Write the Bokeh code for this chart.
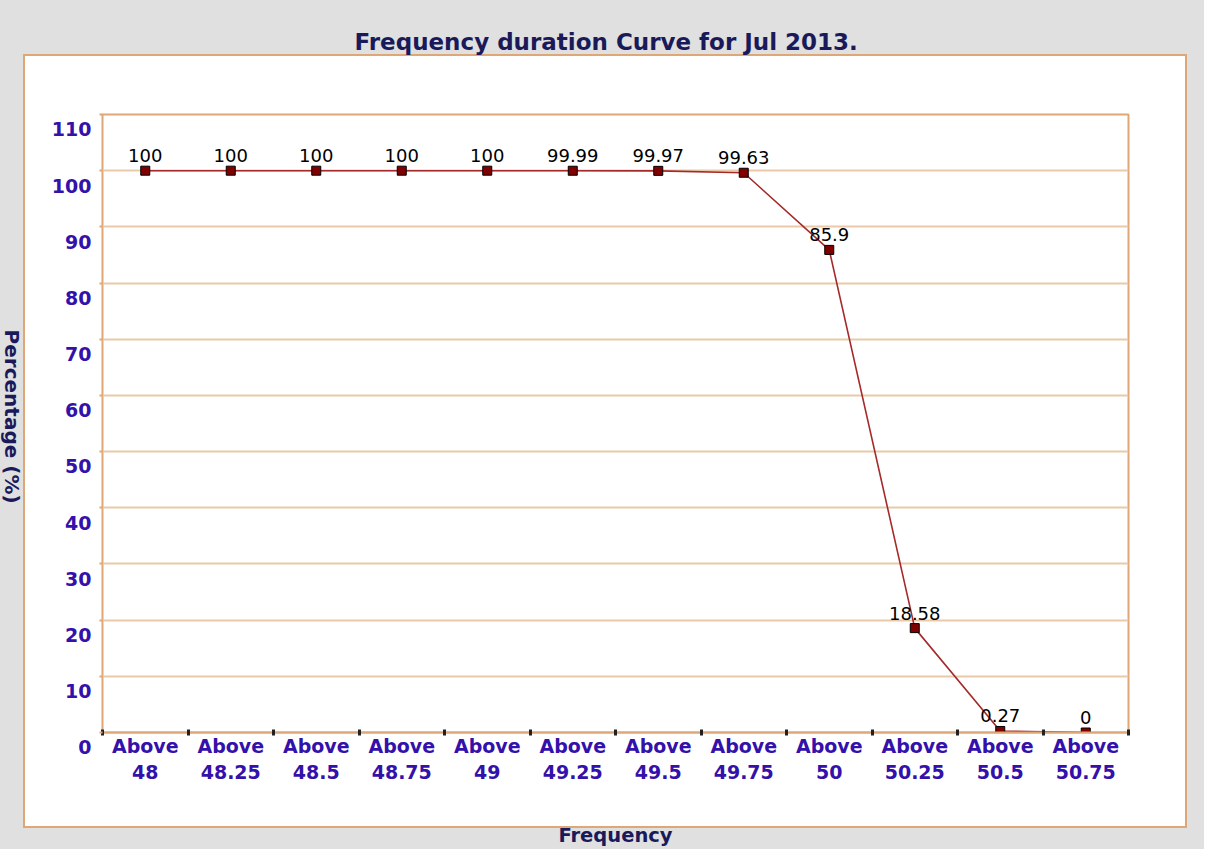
import math
from bokeh.plotting import figure
from bokeh.layouts import row
from bokeh.models import Range1d, FixedTicker, ColumnDataSource, Title
from bokeh.core.properties import value
from bokeh.embed import file_html
from bokeh.resources import INLINE

# ---------------- data ----------------
thresholds = ["48", "48.25", "48.5", "48.75", "49", "49.25",
              "49.5", "49.75", "50", "50.25", "50.5", "50.75"]
categories = ["Above\n" + t for t in thresholds]
percentages = [100, 100, 100, 100, 100, 99.99, 99.97, 99.63, 85.9, 18.58, 0.27, 0]
point_labels = ["100", "100", "100", "100", "100", "99.99", "99.97", "99.63",
                "85.9", "18.58", "0.27", "0"]
y_ticks = [0, 10, 20, 30, 40, 50, 60, 70, 80, 90, 100, 110]
title_text = "Frequency duration Curve for Jul 2013."
x_title = "Frequency"
y_title = "Percentage (%)"

# ---------------- style ----------------
BG = "#e0e0e0"
ORANGE = "#dfa676"
GRID = "#e9c9a7"
TICK_COL = "#3311aa"
NAVY = "#1a1a5a"
LAB_W = 22            # strip holding the vertical axis title
W, H = 1204 - LAB_W, 849
ML, MR, MT, MB = 102 - LAB_W, 76, 114, 117
YMAX = 110
YTITLE_CENTER = 415   # px from top of canvas

n = len(categories)
centers = [i + 0.5 for i in range(n)]
boundaries = list(range(n + 1))

src = ColumnDataSource(dict(x=centers, y=percentages, lab=point_labels))

# ---------- narrow strip with the y-axis title (reads top to bottom) ----------
lab = figure(width=LAB_W, height=H, x_range=Range1d(0, 1), y_range=Range1d(0, H),
             output_backend="svg", toolbar_location=None,
             x_axis_type=None, y_axis_type=None,
             min_border_left=0, min_border_right=0, min_border_top=0,
             min_border_bottom=0)
lab.border_fill_color = BG
lab.background_fill_color = BG
lab.outline_line_color = None
lab.grid.visible = False
lab.text(x=[0.5], y=[H - YTITLE_CENTER], text=[y_title], angle=-math.pi / 2,
         text_align="center", text_baseline="middle",
         text_font=value("DejaVu Sans"), text_font_style="bold",
         text_font_size="20px", text_color=NAVY)

# ---------------- main chart ----------------
p = figure(width=W, height=H, x_range=Range1d(0, n), y_range=Range1d(0, YMAX),
           output_backend="svg", toolbar_location=None,
           min_border_left=ML, min_border_right=MR, min_border_top=MT,
           min_border_bottom=MB)
p.border_fill_color = None
p.background_fill_color = "white"
p.outline_line_color = ORANGE
p.outline_line_width = 2
# gray page with a white, orange-edged panel behind the transparent canvas
p.styles = {
    "background": (
        "linear-gradient(#ffffff,#ffffff) 3px 56px / 1160px 770px no-repeat, "
        f"linear-gradient({ORANGE},{ORANGE}) 1px 54px / 1164px 774px no-repeat, "
        f"{BG}"
    )
}

# titles: an empty spacer next to the frame, the real title above it
p.title.text = ""
p.add_layout(Title(text=" ", standoff=57, text_font_size="1px"), "above")
p.add_layout(Title(text=title_text, align="left", offset=252, standoff=0,
                   text_font="DejaVu Sans", text_font_style="bold",
                   text_font_size="23px", text_color=NAVY), "above")

# grid
p.xgrid.grid_line_color = None
p.ygrid.ticker = FixedTicker(ticks=y_ticks)
p.ygrid.grid_line_color = GRID
p.ygrid.grid_line_width = 2

# y axis (labels sit half a line below their gridline)
ya = p.yaxis[0]
ya.ticker = FixedTicker(ticks=y_ticks)
ya.major_label_overrides = {v: "\n" + str(v) for v in y_ticks}
ya.axis_line_color = None
ya.major_tick_in = 0
ya.major_tick_out = 3
ya.major_tick_line_color = ORANGE
ya.major_tick_line_width = 2
ya.minor_tick_line_color = None
ya.major_label_standoff = 8
ya.major_label_text_font = "DejaVu Sans"
ya.major_label_text_font_style = "bold"
ya.major_label_text_font_size = "19px"
ya.major_label_text_line_height = 1.35
ya.major_label_text_color = TICK_COL

# x axis
xa = p.xaxis[0]
xa.ticker = FixedTicker(ticks=centers, minor_ticks=boundaries)
xa.major_label_overrides = {c: t for c, t in zip(centers, categories)}
xa.axis_line_color = ORANGE
xa.axis_line_width = 2
xa.major_tick_in = 0
xa.major_tick_out = 0
xa.minor_tick_in = 3
xa.minor_tick_out = 3
xa.minor_tick_line_color = "#222222"
xa.minor_tick_line_width = 3
xa.major_label_standoff = -1
xa.major_label_text_font = "DejaVu Sans"
xa.major_label_text_font_style = "bold"
xa.major_label_text_font_size = "19px"
xa.major_label_text_color = TICK_COL
xa.major_label_text_line_height = 1.19
xa.axis_label = x_title
xa.axis_label_standoff = 38
xa.axis_label_text_font = "DejaVu Sans"
xa.axis_label_text_font_style = "bold"
xa.axis_label_text_font_size = "19.5px"
xa.axis_label_text_color = NAVY

# series
p.line("x", "y", source=src, line_color="#a52a2a", line_width=1.6)
p.scatter("x", "y", source=src, marker="square", size=9,
          fill_color="#800000", line_color="black", line_width=1)
p.text("x", "y", text="lab", source=src, text_align="center",
       text_baseline="alphabetic", y_offset=-15,
       text_font=value("DejaVu Sans"), text_font_size="18px", text_color="black")

layout = row(lab, p, spacing=0, styles={"background-color": BG})
open("out.html", "w").write(file_html(layout, INLINE))
